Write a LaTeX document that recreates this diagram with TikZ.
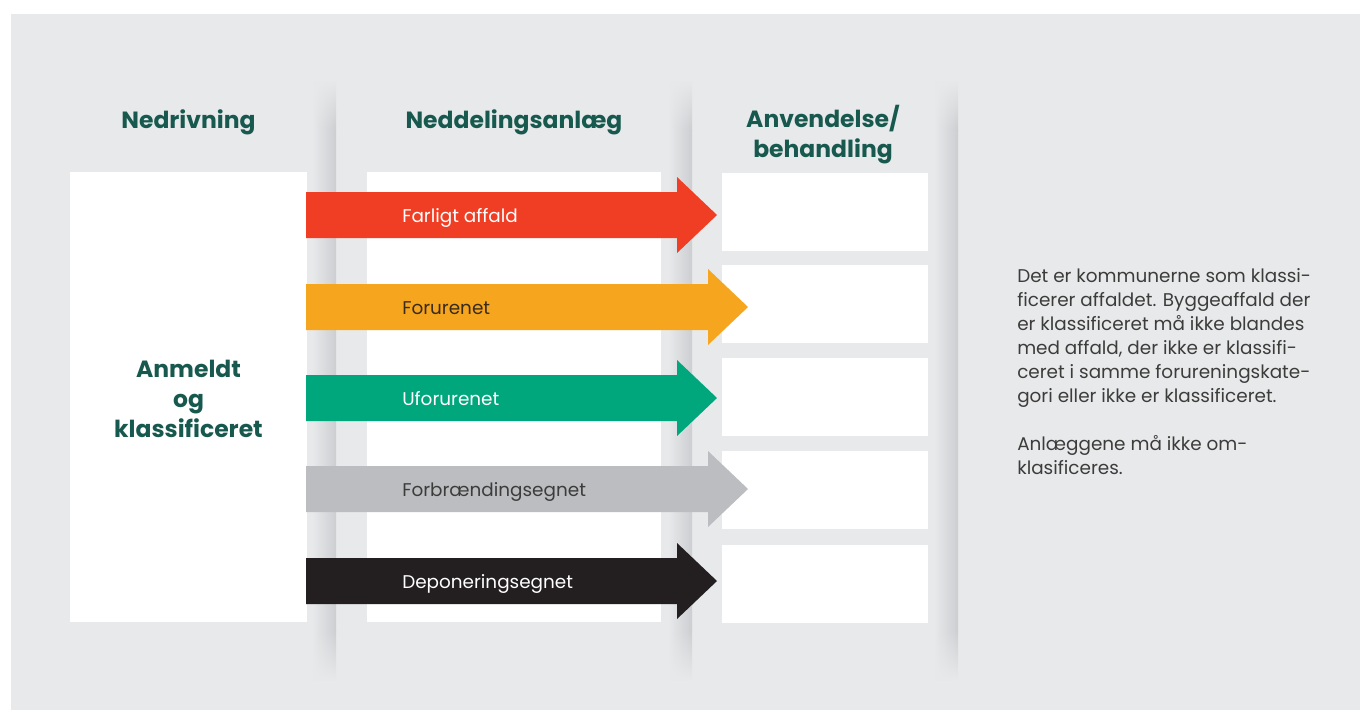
\documentclass[tikz,border=0pt]{standalone}
\usepackage{fontspec}
\setmainfont{Poppins}
\usetikzlibrary{positioning, fadings}
\definecolor{bggrey}{HTML}{E8E9EB}
\definecolor{shadegrey}{HTML}{CDCED1}
\definecolor{headgreen}{HTML}{17594E}
\definecolor{bodygrey}{HTML}{3C3C3B}
\definecolor{farlig}{HTML}{EF3E23}
\definecolor{forurenet}{HTML}{F6A51E}
\definecolor{uforurenet}{HTML}{00A77D}
\definecolor{forbraending}{HTML}{BCBDC0}
\definecolor{deponering}{HTML}{231F20}
\definecolor{darklabel}{HTML}{3A2C1C}

\tikzset{
  coltitle/.style={font=\bfseries\fontsize{17.6}{22.5}\selectfont, text=headgreen, align=center, inner sep=0pt},
  column/.style={fill=white, inner sep=0pt, minimum height=337.5pt},
  slot/.style={fill=white, inner sep=0pt, minimum width=154.5pt, minimum height=58.5pt},
  flowlabel/.style={anchor=base west, inner sep=0pt, font=\fontsize{13.8}{15}\selectfont},
  note/.style={anchor=base west, inner sep=0pt, align=left, text=bodygrey, font=\fontsize{13.8}{18}\selectfont}
}

\begin{document}
\begin{tikzpicture}[x=0.75pt, y=-0.75pt]
\useasboundingbox (0,0) rectangle (1360,711);
% Background
\fill[bggrey] (11,14) rectangle (1360,710);

% Column shadows
\foreach \sx in {336,692,958}{
  \shade[left color=bggrey, right color=shadegrey, path fading=north] (\sx-24,80) rectangle (\sx,130);
  \shade[left color=bggrey, right color=shadegrey] (\sx-24,130) rectangle (\sx,630);
  \shade[left color=bggrey, right color=shadegrey, path fading=south] (\sx-24,630) rectangle (\sx,680);
}

% Columns
\node[column, minimum width=177.75pt] (nedrivning) at (188.5,397) {};
\node[column, minimum width=220.5pt] (anlaeg) at (514,397) {};
\foreach \i/\sy in {1/212,2/304,3/397,4/490,5/584}{
  \node[slot] (slot\i) at (825,\sy) {};
}

% Titles (base = last line)
\node[coltitle, anchor=base] (t1) at (188.5,128) {Nedrivning};
\node[coltitle, anchor=base] (t2) at (514,128) {Neddelingsanlæg};
\node[coltitle, anchor=base] (t3) at (823,157) {Anvendelse/\\behandling};
\node[coltitle, anchor=base] (anmeldt) at (188.5,437) {Anmeldt\\og\\klassificeret};

% Flow arrows
\foreach \i/\ay/\tip/\col/\tcol/\txt in {
  1/215/717/farlig/white/Farligt affald,
  2/307/748/forurenet/darklabel/Forurenet,
  3/398/717/uforurenet/white/Uforurenet,
  4/489/748/forbraending/bodygrey/Forbrændingsegnet,
  5/581/717/deponering/white/Deponeringsegnet}{
  \fill[\col] (306,\ay-23) -- (\tip-40,\ay-23) -- (\tip-40,\ay-38) -- (\tip,\ay)
    -- (\tip-40,\ay+38) -- (\tip-40,\ay+23) -- (306,\ay+23) -- cycle;
  \node[flowlabel, text=\tcol] (flow\i) at (402,\ay+7.5) {\txt};
}

% Note
\node[note] (note) at (1017,474) {Det er kommunerne som klassi-\\ficerer affaldet. Byggeaffald der\\er klassificeret må ikke blandes\\med affald, der ikke er klassifi-\\ceret i samme forureningskate-\\gori eller ikke er klassificeret.\\[18pt]Anlæggene må ikke om-\\klasificeres.};
\end{tikzpicture}
\end{document}
